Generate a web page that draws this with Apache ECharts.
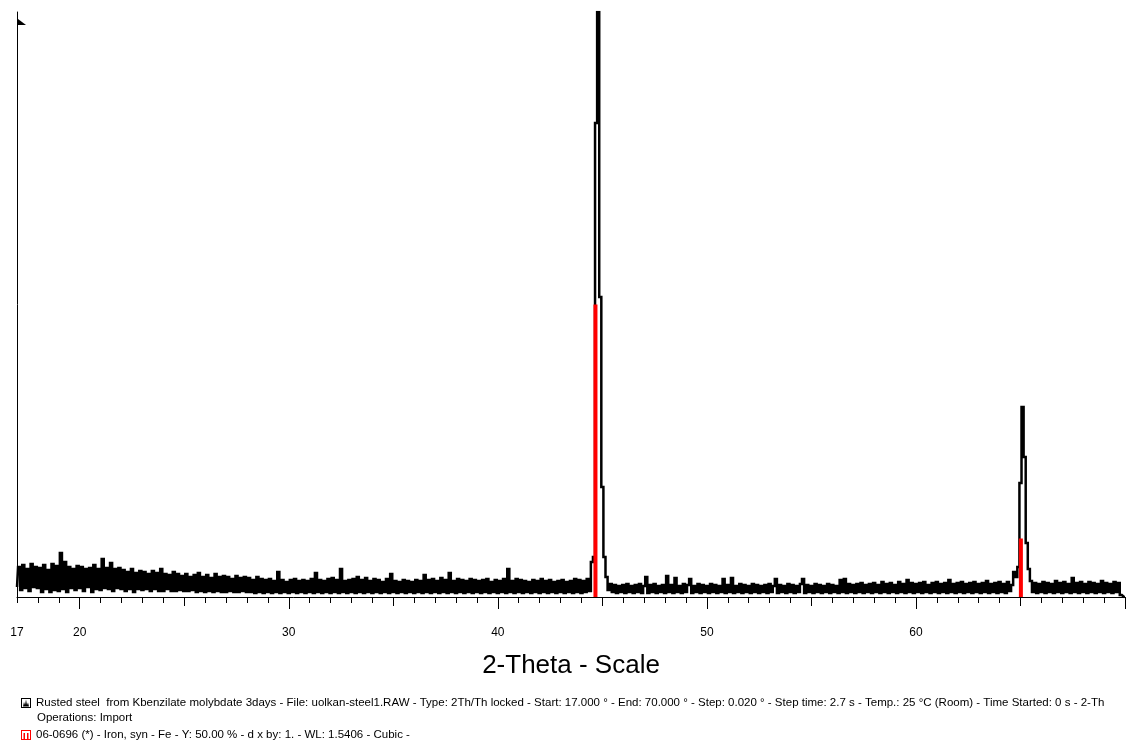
<!DOCTYPE html>
<html>
<head>
<meta charset="utf-8">
<title>XRD scan - rusted steel</title>
<script src="https://cdn.jsdelivr.net/npm/echarts@6/dist/echarts.min.js"></script>
<style>
  html, body { margin: 0; padding: 0; background: #ffffff; }
  #chart { width: 1128px; height: 741px; }
</style>
</head>
<body>
<div id="chart"></div>
<script>
// Scan settings: 2-theta start and step of the stored intensity list
const scanStart = 17.0;
const scanStep = 0.1;

// Intensity (Lin counts), one value per step, 17.0 .. 70.0
const counts = [
  20, 60, 14, 64, 18, 56, 12, 66, 20, 60,   // 17
  18, 58, 10, 64, 16, 54, 10, 66, 14, 62,   // 18
  12, 88, 16, 70, 10, 60, 18, 56, 14, 62,   // 19
  18, 60, 12, 56, 20, 58, 10, 64, 16, 56,   // 20
  14, 76, 18, 58, 16, 68, 12, 56, 18, 58,   // 21
  16, 54, 12, 50, 16, 56, 10, 48, 16, 52,   // 22
  14, 50, 16, 46, 12, 52, 16, 48, 12, 56,   // 23
  12, 46, 16, 44, 12, 50, 12, 46, 14, 42,   // 24
  12, 46, 12, 40, 14, 44, 10, 48, 12, 40,   // 25
  10, 44, 12, 38, 10, 46, 12, 40, 10, 42,   // 26
  10, 40, 12, 36, 10, 42, 10, 38, 12, 40,   // 27
  10, 38, 10, 34, 8, 40, 10, 36, 8, 34,     // 28
  10, 36, 8, 32, 10, 50, 8, 34, 10, 30,     // 29
  8, 34, 10, 36, 8, 32, 10, 34, 8, 32,      // 30
  10, 36, 8, 48, 10, 34, 8, 32, 10, 36,     // 31
  8, 38, 10, 34, 8, 56, 10, 32, 8, 34,      // 32
  10, 36, 8, 40, 10, 34, 8, 38, 10, 32,     // 33
  8, 36, 10, 34, 8, 30, 10, 36, 8, 46,      // 34
  10, 32, 8, 30, 10, 34, 8, 32, 10, 30,     // 35
  8, 34, 10, 32, 8, 44, 10, 34, 8, 36,      // 36
  10, 32, 8, 38, 10, 34, 8, 48, 10, 32,     // 37
  8, 36, 10, 34, 8, 32, 10, 36, 8, 34,      // 38
  10, 32, 8, 34, 10, 36, 8, 30, 10, 34,     // 39
  8, 32, 10, 36, 8, 56, 10, 32, 8, 36,      // 40
  10, 34, 8, 32, 10, 30, 8, 34, 10, 32,     // 41
  8, 36, 10, 32, 8, 34, 10, 30, 8, 32,      // 42
  10, 34, 8, 30, 10, 32, 8, 36, 10, 34,     // 43
  8, 32, 10, 36, 12, 70, 80, 948, 1170, 600, // 44
  220, 80, 40, 14, 26, 10, 24, 8, 22, 10,   // 45
  24, 8, 26, 10, 22, 8, 24, 10, 26, 8,      // 46
  22, 40, 8, 24, 10, 26, 8, 22, 10, 24,     // 47
  8, 42, 10, 24, 8, 38, 10, 22, 8, 26,      // 48
  10, 24, 36, 8, 22, 10, 26, 8, 24, 10,     // 49
  22, 8, 26, 10, 24, 8, 22, 10, 36, 8,      // 50
  24, 10, 38, 8, 22, 10, 26, 8, 24, 10,     // 51
  22, 8, 26, 10, 24, 8, 22, 10, 24, 8,      // 52
  26, 10, 22, 36, 8, 24, 10, 22, 8, 26,     // 53
  10, 24, 8, 22, 10, 26, 36, 8, 24, 10,     // 54
  22, 8, 26, 10, 24, 8, 22, 10, 26, 8,      // 55
  24, 10, 22, 8, 34, 10, 36, 8, 26, 10,     // 56
  24, 8, 26, 10, 28, 8, 24, 10, 26, 8,      // 57
  28, 10, 24, 8, 30, 10, 26, 8, 28, 10,     // 58
  24, 8, 30, 10, 26, 8, 34, 10, 28, 8,      // 59
  26, 10, 28, 8, 30, 10, 24, 8, 28, 10,     // 60
  30, 8, 26, 10, 28, 8, 34, 10, 26, 8,      // 61
  28, 10, 30, 8, 26, 10, 28, 8, 30, 10,     // 62
  26, 8, 28, 10, 32, 8, 26, 10, 28, 8,      // 63
  30, 10, 26, 8, 30, 12, 24, 50, 40, 60,    // 64
  228, 380, 280, 108, 56, 32, 10, 28, 8, 26, // 65
  10, 30, 8, 28, 10, 26, 8, 32, 10, 28,     // 66
  8, 30, 10, 26, 8, 38, 10, 28, 8, 30,      // 67
  10, 26, 8, 30, 10, 28, 8, 26, 10, 32,     // 68
  8, 28, 10, 26, 8, 30, 10, 28, 4, 0,       // 69
  0                                         // 70
];

// Reference pattern 06-0696 (Iron, syn): line positions and relative intensities
const refPeaks = [44.67, 65.02];
const refIntensity = [100, 20];
const refScale = 0.5;          // Y: 50.00 %
const intensityMax = 1170;     // top of the intensity axis

// Axis ticks and labels
const tickLabels = [17, 20, 30, 40, 50, 60];
const majorTicks = [20, 30, 40, 50, 60, 70];
const midTicks = [25, 35, 45, 55, 65];
const minorTicks = [];
for (let t = 17; t <= 70; t++) minorTicks.push(t);

const scanName = 'Rusted steel  from Kbenzilate molybdate 3days - File: uolkan-steel1.RAW - Type: 2Th/Th locked - Start: 17.000 ° - End: 70.000 ° - Step: 0.020 ° - Step time: 2.7 s - Temp.: 25 °C (Room) - Time Started: 0 s - 2-Th';
const refName = '06-0696 (*) - Iron, syn - Fe - Y: 50.00 % - d x by: 1. - WL: 1.5406 - Cubic - ';

const scanData = counts.map((c, i) => [Math.round((scanStart + i * scanStep) * 100) / 100, c]);
const refData = refPeaks.map((p, i) => [p, refIntensity[i] / 100 * refScale * intensityMax]);

const scanIcon = 'path://M0,0H10V10H0Z M1,1V9H9V1Z M2,8.5L3,4L4,7L5,1.5L6,7L7,4.5L8,8.5Z';
const refIcon = 'path://M0,0H10V10H0Z M1,1V9H9V1Z M2.5,3H4V9H2.5Z M6,3H7.5V9H6Z';

const font = 'Liberation Sans, Arial, sans-serif';
const legendText = { fontSize: 11.5, color: '#000', fontFamily: font };

function tickAxis(values, len, extra) {
  return Object.assign({
    type: 'value', min: 17, max: 70, position: 'bottom', gridIndex: 0,
    axisLine: { show: false },
    axisTick: { show: true, customValues: values, length: len, lineStyle: { color: '#000', width: 1 } },
    axisLabel: { show: false },
    splitLine: { show: false }
  }, extra || {});
}

function legendEntry(name, icon, top) {
  return {
    orient: 'vertical', left: 21, top: top, padding: 0,
    itemWidth: 10, itemHeight: 10, selectedMode: false,
    textStyle: legendText,
    data: [{ name: name, icon: icon }]
  };
}

const chart = echarts.init(document.getElementById('chart'), null, { renderer: 'canvas' });
chart.setOption({
  animation: false,
  backgroundColor: '#ffffff',
  grid: { left: 17, right: 3, top: 12, bottom: 144, containLabel: false },
  xAxis: [
    tickAxis(minorTicks, 6, {
      axisLine: { show: true, onZero: false, lineStyle: { color: '#000', width: 1 } },
      axisLabel: { show: true, customValues: tickLabels, margin: 30, fontSize: 12, color: '#000', fontFamily: font },
      name: '2-Theta - Scale',
      nameLocation: 'middle',
      nameGap: 56,
      nameTextStyle: { fontSize: 26, color: '#000', fontFamily: font }
    }),
    tickAxis(midTicks, 9),
    tickAxis(majorTicks, 12)
  ],
  yAxis: {
    type: 'value', min: 0, max: intensityMax,
    axisLine: { show: true, lineStyle: { color: '#000', width: 1 } },
    axisTick: { show: false },
    axisLabel: { show: false },
    splitLine: { show: false }
  },
  legend: [
    legendEntry(scanName, scanIcon, 697),
    legendEntry(refName, refIcon, 729)
  ],
  graphic: [
    // flag at the top of the intensity axis
    { type: 'polygon', shape: { points: [[18, 19], [26, 25], [18, 25]] }, style: { fill: '#000' } },
    { type: 'text', left: 37, top: 712, style: { text: 'Operations: Import', fontSize: 11.5, fill: '#000', fontFamily: font } }
  ],
  series: [
    {
      type: 'line',
      name: scanName,
      xAxisIndex: 0,
      data: scanData,
      step: 'middle',
      symbol: 'none',
      showSymbol: false,
      lineStyle: { color: '#000', width: 2.5, join: 'miter' },
      itemStyle: { color: '#000' },
      silent: true,
      z: 2
    },
    {
      type: 'bar',
      name: refName,
      xAxisIndex: 0,
      data: refData,
      barWidth: 4,
      itemStyle: { color: '#ff0000' },
      silent: true,
      z: 3
    }
  ]
});
</script>
</body>
</html>
